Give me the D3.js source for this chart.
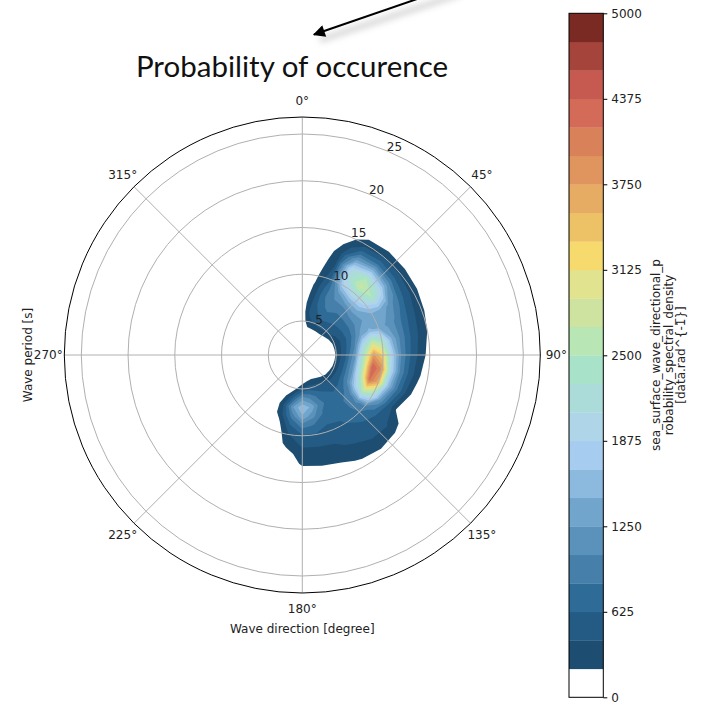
<!DOCTYPE html>
<html>
<head>
<meta charset="utf-8">
<script src="https://cdn.jsdelivr.net/npm/d3@7"></script>
<style>
  body { margin: 0; background: #fff; }
  text { font-family: "DejaVu Sans", sans-serif; }
</style>
</head>
<body>
<svg id="chart" width="718" height="705"></svg>
<script>
// wave direction (deg) for each row of the grid, wave period (s) for each column
var directions = [0, 10, 20, 30, 40, 50, 60, 70, 80, 90, 100, 110, 120, 130, 140, 150, 160, 170, 180, 190, 200, 210];
var periods = [3, 4, 5, 6, 7, 8, 9, 10, 11, 12, 13, 14, 15, 16, 17];

// spectral density, one row per direction
var density = [
  [0, 0, 50, 50, 30, 0, 0, 0, 0, 0, 0, 0, 0, 0, 0],
  [0, 113, 350, 450, 400, 300, 230, 150, 80, 20, 0, 0, 0, 0, 0],
  [0, 104, 450, 600, 750, 800, 700, 550, 450, 380, 300, 195, 100, 0, 0],
  [0, 111, 500, 700, 900, 1000, 1200, 1800, 2100, 2000, 1300, 700, 316, 136, 0],
  [0, 111, 500, 650, 800, 1000, 1500, 2200, 2800, 2500, 1600, 800, 400, 150, 0],
  [0, 47, 450, 600, 800, 1100, 1500, 2000, 2500, 2100, 1300, 700, 380, 130, 0],
  [0, 0, 330, 550, 800, 1100, 1300, 1400, 1400, 1200, 900, 550, 330, 100, 0],
  [0, 0, 260, 500, 850, 1300, 1500, 1400, 1200, 1000, 700, 450, 260, 50, 0],
  [0, 0, 245, 550, 1000, 2000, 2800, 2400, 1500, 1000, 650, 400, 190, 0, 0],
  [0, 0, 230, 600, 1200, 2600, 3800, 3300, 1800, 1000, 600, 330, 110, 0, 0],
  [0, 0, 245, 650, 1300, 2700, 4400, 3900, 1900, 1000, 550, 260, 0, 0, 0],
  [0, 0, 260, 650, 1250, 2500, 4200, 3600, 1700, 900, 450, 120, 0, 0, 0],
  [0, 0, 300, 620, 1100, 1900, 2800, 2200, 1200, 600, 190, 100, 0, 0, 0],
  [0, 0, 347, 550, 800, 1000, 1100, 950, 700, 550, 450, 300, 0, 0, 0],
  [0, 80, 400, 550, 700, 800, 750, 700, 600, 500, 420, 300, 100, 0, 0],
  [0, 148, 450, 650, 750, 700, 650, 600, 550, 450, 350, 240, 60, 0, 0],
  [0, 176, 500, 800, 900, 800, 650, 550, 450, 380, 300, 150, 0, 0, 0],
  [0, 122, 550, 1000, 1400, 1100, 800, 600, 450, 350, 270, 110, 0, 0, 0],
  [0, 0, 420, 1150, 1650, 1400, 900, 600, 450, 330, 250, 80, 0, 0, 0],
  [0, 0, 200, 700, 1250, 900, 600, 400, 280, 100, 0, 0, 0, 0, 0],
  [0, 0, 0, 250, 450, 350, 120, 0, 0, 0, 0, 0, 0, 0, 0],
  [0, 0, 0, 0, 0, 0, 0, 0, 0, 0, 0, 0, 0, 0, 0]
];

// 24 contour bands from 0 to 5000
var levels = d3.range(25).map(function(i) { return i * 5000 / 24; });
var levelColors = ["#ffffff", "#1d4d70", "#235b85", "#2f6b97", "#4680aa", "#5b92bb", "#71a5cc", "#8cbadf",
  "#a6cdef", "#afd6e8", "#acdcd9", "#a8e3c9", "#b8e6b5", "#cfe3a0", "#e2e38e", "#f7da6e",
  "#edc267", "#e6ac63", "#e0955e", "#d98158", "#d36b58", "#c75a50", "#a5443a", "#7a2a22"];
var cbarTicks = [0, 625, 1250, 1875, 2500, 3125, 3750, 4375, 5000];
var ringTicks = [5, 10, 15, 20, 25];
var angleTicks = [0, 45, 90, 135, 180, 225, 270, 315];

var svg = d3.select("#chart");
var cx = 302.3, cy = 355, R = 238;
var r = d3.scaleLinear().domain([1.36, 26.82]).range([0, R]);
var rad = Math.PI / 180;

function px(deg, rr) { return cx + rr * Math.sin(deg * rad); }
function py(deg, rr) { return cy - rr * Math.cos(deg * rad); }

// contour grid -> polar
var n = periods.length, m = directions.length;
var gx = d3.scaleLinear().domain([0.5, n - 0.5]).range([periods[0], periods[n - 1]]);
var gy = d3.scaleLinear().domain([0.5, m - 0.5]).range([directions[0], directions[m - 1]]);
var polar = d3.geoTransform({
  point: function(x, y) {
    var a = gy(y), rr = Math.max(0, r(gx(x)));
    this.stream.point(px(a, rr), py(a, rr));
  }
});
var path = d3.geoPath(polar);

var bands = d3.contours()
  .size([n, m])
  .thresholds(levels.slice(1, 24))(density.flat());

svg.append("g")
  .selectAll("path")
  .data(bands)
  .enter().append("path")
    .attr("d", path)
    .attr("fill", function(d, i) { return levelColors[i + 1]; });

// grid
var grid = svg.append("g").attr("stroke", "#b0b0b0").attr("fill", "none").attr("stroke-width", 1);
grid.selectAll("circle")
  .data(ringTicks)
  .enter().append("circle")
    .attr("cx", cx).attr("cy", cy)
    .attr("r", function(d) { return r(d); });
grid.selectAll("line")
  .data(angleTicks)
  .enter().append("line")
    .attr("x1", cx).attr("y1", cy)
    .attr("x2", function(d) { return px(d, R); })
    .attr("y2", function(d) { return py(d, R); });

svg.append("circle")
  .attr("cx", cx).attr("cy", cy).attr("r", R)
  .attr("fill", "none").attr("stroke", "#000").attr("stroke-width", 1);

svg.append("g").selectAll("text")
  .data(ringTicks)
  .enter().append("text")
    .attr("x", function(d) { return px(22.5, r(d)); })
    .attr("y", function(d) { return py(22.5, r(d)); })
    .attr("font-size", 12).attr("fill", "#222")
    .text(function(d) { return d; });

svg.append("g").selectAll("text")
  .data(angleTicks)
  .enter().append("text")
    .attr("x", function(d) { return px(d, 254); })
    .attr("y", function(d) { return py(d, 254); })
    .attr("text-anchor", "middle").attr("dominant-baseline", "central")
    .attr("font-size", 12).attr("fill", "#222")
    .text(function(d) { return d + "°"; });

svg.append("text")
  .attr("x", cx).attr("y", 633)
  .attr("text-anchor", "middle").attr("font-size", 12).attr("fill", "#222")
  .text("Wave direction [degree]");

svg.append("text")
  .attr("transform", "translate(32,355) rotate(-90)")
  .attr("text-anchor", "middle").attr("font-size", 12).attr("fill", "#222")
  .text("Wave period [s]");

// colorbar
var cb = d3.scaleLinear().domain([0, 5000]).range([697.3, 13.3]);
var cbar = svg.append("g");
cbar.selectAll("rect")
  .data(levelColors)
  .enter().append("rect")
    .attr("x", 569).attr("width", 34.3)
    .attr("y", function(d, i) { return cb(levels[i + 1]); })
    .attr("height", function(d, i) { return cb(levels[i]) - cb(levels[i + 1]) + 0.3; })
    .attr("fill", function(d) { return d; });
cbar.append("rect")
  .attr("x", 569).attr("y", 13.3).attr("width", 34.3).attr("height", 684)
  .attr("fill", "none").attr("stroke", "#000").attr("stroke-width", 1);

var cax = svg.append("g")
  .attr("transform", "translate(603.3,0)")
  .call(d3.axisRight(cb).tickValues(cbarTicks).tickFormat(d3.format("d")).tickSize(4).tickPadding(4));
cax.select(".domain").remove();
cax.selectAll("text").attr("font-size", 12).attr("font-family", "DejaVu Sans").attr("fill", "#222");

var cbLabel = svg.append("text")
  .attr("transform", "translate(660,355) rotate(-90)")
  .attr("text-anchor", "middle").attr("font-size", 12).attr("fill", "#222");
["sea_surface_wave_directional_p", "robability_spectral_density", "[data.rad^{-1}]"].forEach(function(s, i) {
  cbLabel.append("tspan").attr("x", 0).attr("dy", i === 0 ? 0 : 12.7).text(s);
});

// title and the arrow pointing at it
svg.append("text")
  .attr("x", 292).attr("y", 77)
  .attr("text-anchor", "middle")
  .style("font-family", "Lato, 'Open Sans', sans-serif")
  .attr("font-size", 29.5).attr("fill", "#111")
  .text("Probability of occurence");

var defs = svg.append("defs");
defs.append("filter").attr("id", "soft")
  .attr("x", "-20%").attr("y", "-50%").attr("width", "140%").attr("height", "200%")
  .append("feGaussianBlur").attr("stdDeviation", 3);
defs.append("marker").attr("id", "head")
  .attr("viewBox", "0 0 10 10").attr("refX", 9).attr("refY", 5)
  .attr("markerWidth", 7).attr("markerHeight", 6).attr("orient", "auto")
  .attr("markerUnits", "strokeWidth")
  .append("path").attr("d", "M0,0L10,5L0,10z").attr("fill", "#000");

svg.append("line")
  .attr("x1", 460).attr("y1", -6).attr("x2", 320).attr("y2", 40)
  .attr("stroke", "#bbb").attr("stroke-width", 6).attr("opacity", 0.6)
  .attr("filter", "url(#soft)");
svg.append("line")
  .attr("x1", 420).attr("y1", -2).attr("x2", 314).attr("y2", 34.5)
  .attr("stroke", "#000").attr("stroke-width", 2)
  .attr("marker-end", "url(#head)");
</script>
</body>
</html>
